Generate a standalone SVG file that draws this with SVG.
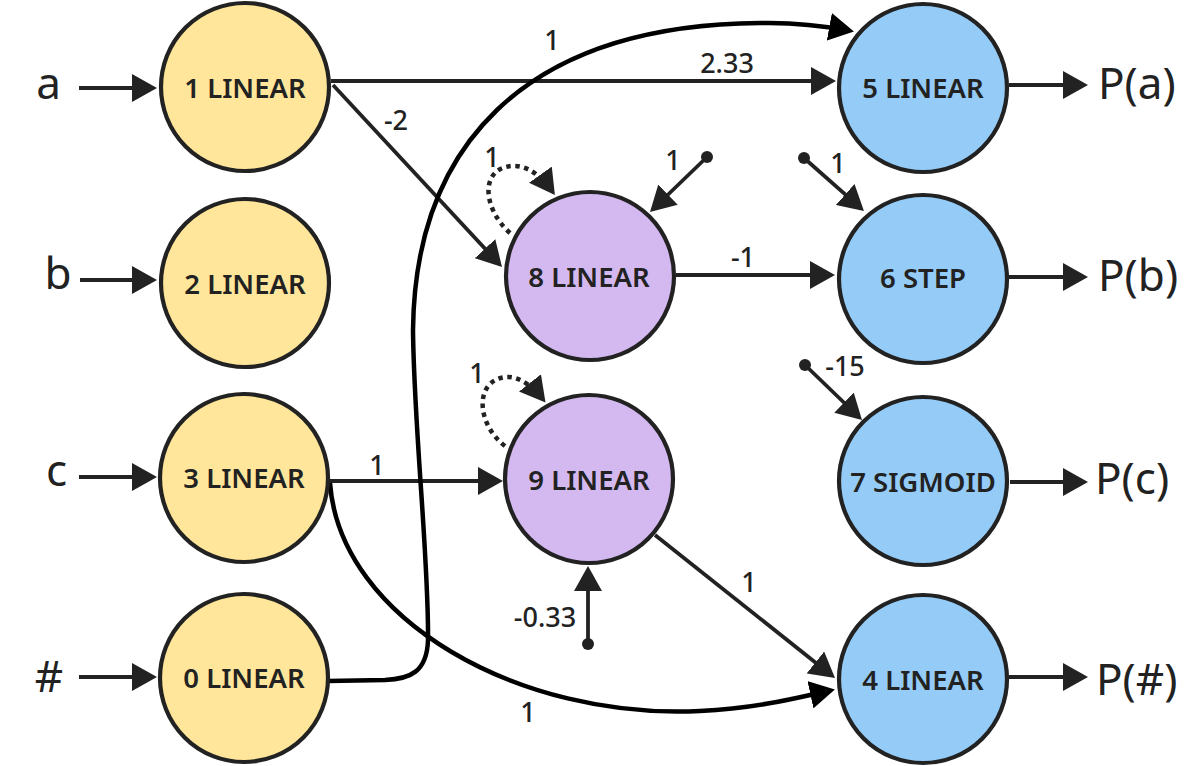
<svg xmlns="http://www.w3.org/2000/svg" width="1201" height="766" viewBox="0 0 1201 766">
<style>
.node{stroke:#222;stroke-width:4.2}
.in{fill:#FFE69A}
.hid{fill:#D4B9F1}
.out{fill:#94CBF7}
.nl{font-family:"Noto Sans","Open Sans",sans-serif;font-weight:600;font-size:27.5px;fill:#222;text-anchor:middle}
.el{font-family:"Noto Sans","Open Sans",sans-serif;font-weight:500;font-size:27px;fill:#222;text-anchor:middle}
.io{font-family:"Noto Sans","Open Sans",sans-serif;font-size:44px;fill:#222}
.e{fill:none;stroke:#222;stroke-width:3.8;marker-end:url(#ah)}
.io-e{fill:none;stroke:#222;stroke-width:4.2;marker-end:url(#ah)}
.c{fill:none;stroke:#000;stroke-width:4.5;marker-end:url(#ahk)}
.loop{fill:none;stroke:#222;stroke-width:4.5;stroke-dasharray:4.5 4.5;marker-end:url(#ah)}
.dot{fill:#222}
</style>
<defs>
<marker id="ah" viewBox="0 0 25 28" refX="20" refY="14" markerWidth="25" markerHeight="28" markerUnits="userSpaceOnUse" orient="auto">
<path d="M0,0 L25,14 L0,28 z" fill="#222" stroke="none"/>
</marker>
<marker id="ahk" viewBox="0 0 25 28" refX="20" refY="14" markerWidth="25" markerHeight="28" markerUnits="userSpaceOnUse" orient="auto">
<path d="M0,0 L25,14 L0,28 z" fill="#000" stroke="none"/>
</marker>
</defs>

<g id="connectors">
<path class="io-e" d="M79,88 L152,88"/>
<path class="io-e" d="M80,280 L152,280"/>
<path class="io-e" d="M79,477 L152,477"/>
<path class="io-e" d="M79,677 L152,677"/>
<path class="io-e" d="M1009,85 L1083,85"/>
<path class="io-e" d="M1009,277 L1083,277"/>
<path class="io-e" d="M1010,482 L1083,482"/>
<path class="io-e" d="M1009,677 L1083,677"/>
<path class="e" d="M331,81 L831,81"/>
<path class="e" d="M333,85 L498.6,263.3"/>
<path class="e" d="M676,275 L830,275"/>
<path class="e" d="M328,481 L498,481"/>
<path class="e" d="M655,535 L831.1,674.9"/>
<path class="c" d="M328,681 L385,680 C410,679 427,672 428,640 C429,560 414,430 413,330 C415,150 520,25 760,23 C800,22 830,27 849,30.5"/>
<path class="c" d="M330,483 C340,620 520,720 700,711 C760,708 800,697 830,690.5"/>
<path class="e" d="M707,157 L653.6,208.5"/>
<circle class="dot" cx="707" cy="157" r="6"/>
<path class="e" d="M804,158 L860.2,207.7"/>
<circle class="dot" cx="804" cy="158" r="6"/>
<path class="e" d="M805,365 L858.4,416.5"/>
<circle class="dot" cx="805" cy="365" r="6"/>
<path class="e" d="M588,644 L588,571"/>
<circle class="dot" cx="588" cy="644" r="6"/>
<path class="loop" d="M510,233 C482,208 480,168 512,166 C528,165 542,177 552,191"/>
<path class="loop" d="M505,446 C476,424 474,380 506,377 C520,376 534,388 542.4,398.6"/>
<text class="el" x="727" y="73">2.33</text>
<text class="el" x="396" y="130">-2</text>
<text class="el" x="552" y="50">1</text>
<text class="el" x="492" y="167">1</text>
<text class="el" x="673" y="170">1</text>
<text class="el" x="838" y="173">1</text>
<text class="el" x="743" y="267">-1</text>
<text class="el" x="377" y="475">1</text>
<text class="el" x="477" y="383">1</text>
<text class="el" x="545" y="627">-0.33</text>
<text class="el" x="845" y="376">-15</text>
<text class="el" x="749" y="592">1</text>
<text class="el" x="528" y="722">1</text>
</g>

<g id="io-labels">
<text class="io" x="48.5" y="99" text-anchor="middle">a</text>
<text class="io" x="58" y="289" text-anchor="middle">b</text>
<text class="io" x="56.5" y="486" text-anchor="middle">c</text>
<text class="io" x="49" y="692" text-anchor="middle">#</text>
<text class="io" x="1098" y="99">P(a)</text>
<text class="io" x="1098" y="291">P(b)</text>
<text class="io" x="1095" y="494">P(c)</text>
<text class="io" x="1096" y="695">P(#)</text>
</g>

<g id="node1"><circle class="node in" cx="245" cy="87" r="84"/><text class="nl" x="245" y="98">1 LINEAR</text></g>
<g id="node2"><circle class="node in" cx="245" cy="283" r="84"/><text class="nl" x="245" y="294">2 LINEAR</text></g>
<g id="node3"><circle class="node in" cx="244" cy="478" r="84"/><text class="nl" x="244" y="488">3 LINEAR</text></g>
<g id="node0"><circle class="node in" cx="244" cy="678" r="84"/><text class="nl" x="244" y="688">0 LINEAR</text></g>
<g id="node8"><circle class="node hid" cx="590" cy="276" r="84"/><text class="nl" x="589" y="287">8 LINEAR</text></g>
<g id="node9"><circle class="node hid" cx="589" cy="479" r="84"/><text class="nl" x="589" y="490">9 LINEAR</text></g>
<g id="node5"><circle class="node out" cx="923" cy="88" r="84"/><text class="nl" x="923" y="98">5 LINEAR</text></g>
<g id="node6"><circle class="node out" cx="923" cy="279" r="84"/><text class="nl" x="923" y="288">6 STEP</text></g>
<g id="node7"><circle class="node out" cx="923" cy="481" r="84"/><text class="nl" x="923" y="492">7 SIGMOID</text></g>
<g id="node4"><circle class="node out" cx="923" cy="679" r="84"/><text class="nl" x="923" y="690">4 LINEAR</text></g>
</svg>
